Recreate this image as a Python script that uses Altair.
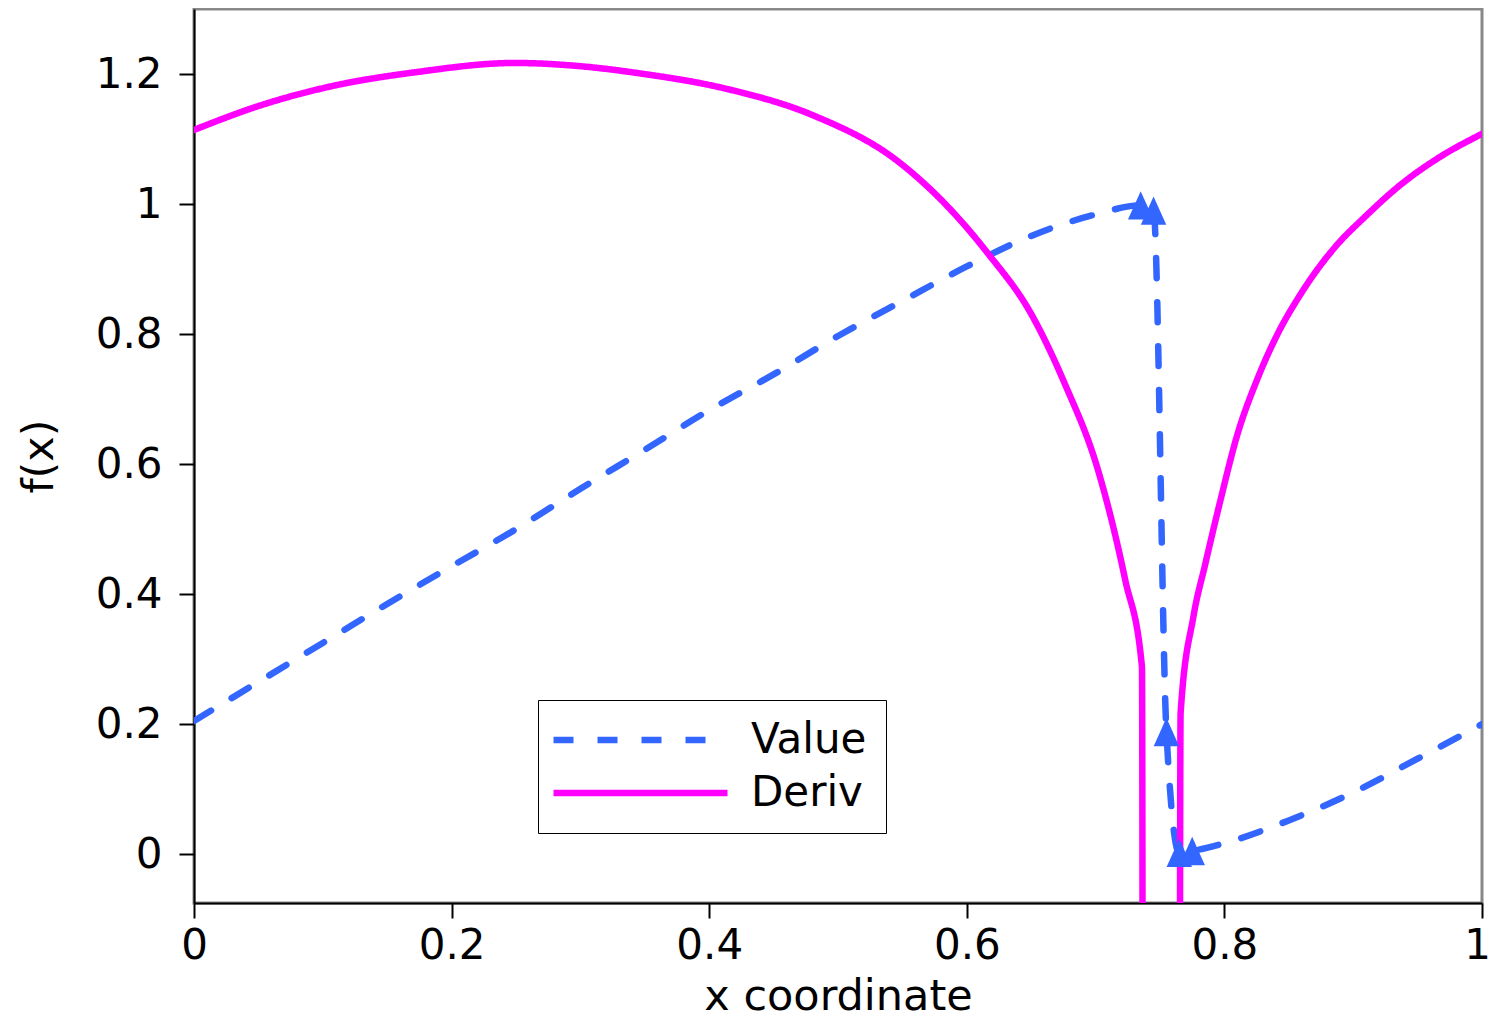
import altair as alt
import pandas as pd

# ---- data ----
series_names = ["Value", "Deriv"]
series_colors = ["#3366ff", "#ff00ff"]

value_x = [0.0, 0.05, 0.1, 0.15, 0.2, 0.25, 0.3, 0.35, 0.4, 0.45, 0.5, 0.55, 0.6,
           0.65, 0.7, 0.735, 0.745, 0.755, 0.765, 0.775, 0.8, 0.85, 0.9, 0.95, 1.0]
value_y = [0.205, 0.265, 0.325, 0.385, 0.443, 0.500, 0.562, 0.622, 0.683, 0.738, 0.797,
           0.851, 0.904, 0.951, 0.984, 0.998, 0.990, 0.188, 0.002, 0.005, 0.017, 0.052,
           0.095, 0.147, 0.200]

deriv_x = [0.0, 0.052, 0.104, 0.173, 0.249, 0.3, 0.346, 0.416, 0.48, 0.547, 0.599, 0.616,
           0.65, 0.676, 0.702, 0.723, 0.736, 0.745, 0.755, 0.766, 0.776, 0.785, 0.797,
           0.81, 0.825, 0.84, 0.86, 0.886, 0.91, 0.937, 0.967, 1.0]
deriv_y = [1.114, 1.152, 1.180, 1.203, 1.217, 1.212, 1.201, 1.176, 1.137, 1.065, 0.966, 0.925,
           0.831, 0.724, 0.590, 0.422, 0.288, -60.0, -60.0, 0.217, 0.366, 0.445, 0.545,
           0.645, 0.728, 0.795, 0.864, 0.934, 0.982, 1.030, 1.072, 1.108]

marker_x = [0.735, 0.745, 0.755, 0.765, 0.775]
marker_y = [0.998, 0.990, 0.188, 0.002, 0.005]

x_ticks = [0, 0.2, 0.4, 0.6, 0.8, 1.0]
y_ticks = [0, 0.2, 0.4, 0.6, 0.8, 1.0, 1.2]

lines_df = pd.concat([
    pd.DataFrame({"x": value_x, "y": value_y, "series": "Value", "order": range(len(value_x))}),
    pd.DataFrame({"x": deriv_x, "y": deriv_y, "series": "Deriv", "order": range(len(deriv_x))}),
], ignore_index=True)
marker_df = pd.DataFrame({"x": marker_x, "y": marker_y})

FONT = "DejaVu Sans"
LINE_W = 6.5

legend = alt.Legend(
    title=None,
    orient="none",
    legendX=344,
    legendY=691,
    padding=19,
    rowPadding=11,
    fillColor="white",
    strokeColor="black",
    labelFont=FONT,
    labelFontSize=42,
    labelColor="black",
    labelOffset=162,
    symbolOffset=-10,
    symbolType="M-1,0L11,0",
    symbolSize=841,
    symbolStrokeWidth=LINE_W,
)

x_enc = alt.X(
    "x:Q",
    scale=alt.Scale(domain=[0, 1], nice=False, zero=False),
    axis=alt.Axis(values=x_ticks, format="~g", title="x coordinate",
                  labelPadding=7, titlePadding=9, labelFlush=False,
                  labelOffset={"condition": {"test": "datum.value == 1", "value": -5}, "value": 0}),
)
y_enc = alt.Y(
    "y:Q",
    scale=alt.Scale(domain=[-0.075, 1.3], nice=False, zero=False),
    axis=alt.Axis(values=y_ticks, format="~g", title="f(x)",
                  labelPadding=17, titlePadding=34, labelFlush=False),
)

lines = alt.Chart(lines_df).mark_line(
    clip=True, strokeCap="round", strokeJoin="round", strokeWidth=LINE_W, interpolate="monotone"
).encode(
    x=x_enc,
    y=y_enc,
    order="order:Q",
    color=alt.Color("series:N", scale=alt.Scale(domain=series_names, range=series_colors), legend=legend),
    strokeDash=alt.StrokeDash("series:N", scale=alt.Scale(domain=series_names, range=[[20, 24], [1, 0]]), legend=legend),
)

markers = alt.Chart(marker_df).mark_point(
    shape="M0,-1L0.9,1L-0.9,1Z", filled=True, size=800, opacity=1, color="#3366ff", clip=True
).encode(x="x:Q", y="y:Q")

chart = alt.layer(lines, markers).properties(
    width=1288,
    height=894,
    padding={"left": 186, "top": 1, "right": 9, "bottom": 118},
    autosize=alt.AutoSizeParams(type="none"),
).configure_axis(
    domainColor="black", domainWidth=2, tickColor="black", tickWidth=2, tickSize=15,
    labelFont=FONT, labelFontSize=42, labelColor="black",
    titleFont=FONT, titleFontSize=43, titleFontWeight="normal", titleColor="black",
    grid=False,
).configure_view(stroke="#888888", strokeWidth=3)

chart.save("out.html", embed_options={"renderer": "svg", "actions": False})
